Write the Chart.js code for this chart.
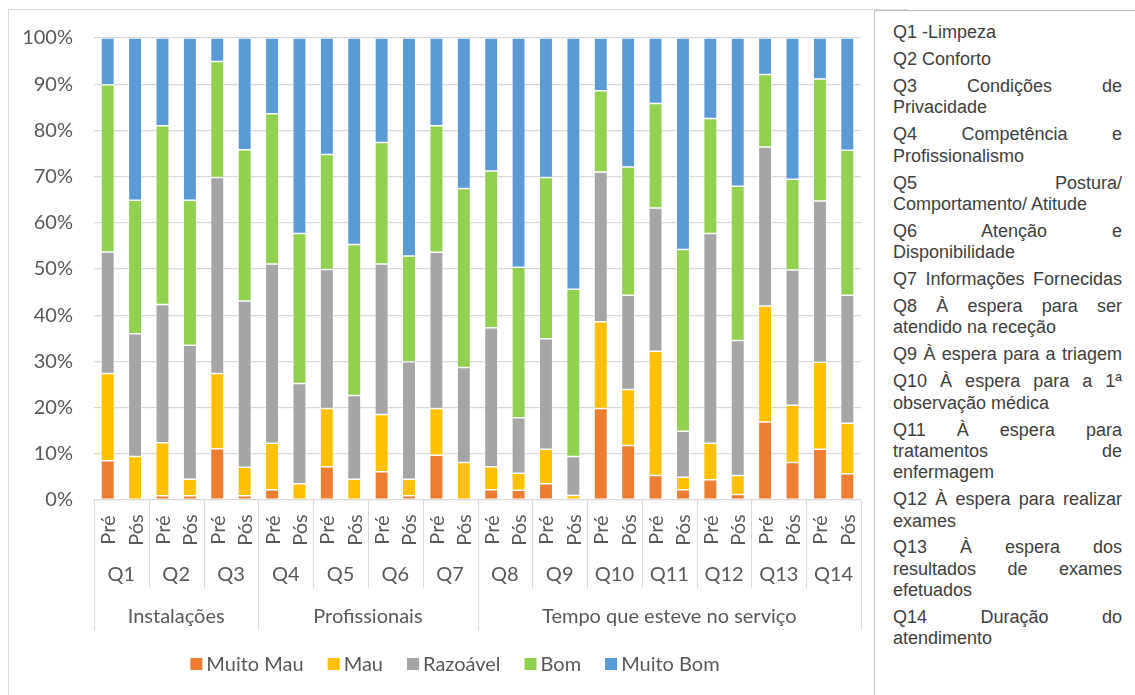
<!DOCTYPE html>
<html>
<head>
<meta charset="utf-8">
<script src="https://cdn.jsdelivr.net/npm/chart.js@4.4.1/dist/chart.umd.min.js"></script>
<style>
  body { margin: 0; width: 1135px; height: 695px; overflow: hidden; background: #fff; position: relative; font-family: Lato, sans-serif; }
  #frame { position: absolute; left: 8px; top: 9px; width: 900px; height: 700px; border: 1px solid #d9d9d9; box-sizing: border-box; }
  #wrap { position: absolute; left: 0; top: 0; width: 875px; height: 695px; }
  #notes { position: absolute; left: 874px; top: 10px; width: 300px; height: 700px; border: 1px solid #bfbfbf; background: #fff; box-sizing: border-box; }
  #notes .txt { position: absolute; left: 18px; top: 11px; width: 229px; font-family: "Liberation Sans", Arial, sans-serif; font-size: 18px; line-height: 21.3px; color: #404040; }
  .p { margin-bottom: 5.7px; }
  .l { white-space: nowrap; }
  .j { white-space: nowrap; text-align: justify; text-align-last: justify; }
</style>
</head>
<body>
<div id="frame"></div>
<div id="wrap"><canvas id="chart" width="875" height="695"></canvas></div>
<div id="notes"><div class="txt" id="txt"></div></div>

<script>
// questions, phases and the three blocks of the questionnaire
const questions = ['Q1','Q2','Q3','Q4','Q5','Q6','Q7','Q8','Q9','Q10','Q11','Q12','Q13','Q14'];
const phases = ['Pré', 'Pós'];
const groups = ['Instalações', 'Profissionais', 'Tempo que esteve no serviço'];
const groupSizes = [3, 4, 7];   // questions per block

// % of answers, order: Q1 Pré, Q1 Pós, Q2 Pré, ...
const muitoMau = [8.5, 0, 0.9, 0.9, 11.1, 0.9, 2.2, 0, 7.2, 0, 6.1, 0.9, 9.7, 0,
                  2.2, 2.1, 3.5, 0, 19.8, 11.8, 5.3, 2.2, 4.4, 1.2, 16.9, 8.1, 11.0, 5.7];
const mau      = [18.9, 9.4, 11.5, 3.6, 16.3, 6.2, 10.1, 3.5, 12.6, 4.5, 12.4, 3.6, 10.1, 8.1,
                  5.0, 3.7, 7.5, 1.0, 18.8, 12.1, 26.9, 2.7, 7.9, 4.1, 25.1, 12.4, 18.8, 10.9];
const razoavel = [26.3, 26.6, 29.9, 29.0, 42.4, 36.0, 38.8, 21.7, 30.1, 18.1, 32.6, 25.4, 33.8, 20.6,
                  30.1, 12.0, 23.9, 8.4, 32.4, 20.4, 31.0, 10.0, 45.4, 29.2, 34.4, 29.3, 34.9, 27.7];
const bom      = [36.2, 28.9, 38.7, 31.4, 25.1, 32.7, 32.5, 32.5, 24.9, 32.7, 26.3, 22.9, 27.4, 38.7,
                  33.9, 32.6, 34.9, 36.2, 17.6, 27.8, 22.6, 39.3, 24.9, 33.4, 15.7, 19.6, 26.4, 31.4];
const muitoBom = [10.1, 35.1, 19.0, 35.1, 5.1, 24.2, 16.4, 42.3, 25.2, 44.7, 22.6, 47.2, 19.0, 32.6,
                  28.8, 49.6, 30.2, 54.4, 11.4, 27.9, 14.2, 45.8, 17.4, 32.1, 7.9, 30.6, 8.9, 24.3];

// side notes: each question split into its printed lines, 1 = justified line
const notes = [
  [['Q1 -Limpeza', 0]],
  [['Q2 Conforto', 0]],
  [['Q3 Condições de', 1], ['Privacidade', 0]],
  [['Q4 Competência e', 1], ['Profissionalismo', 0]],
  [['Q5 Postura/', 1], ['Comportamento/ Atitude', 0]],
  [['Q6 Atenção e', 1], ['Disponibilidade', 0]],
  [['Q7 Informações Fornecidas', 1]],
  [['Q8 À espera para ser', 1], ['atendido na receção', 0]],
  [['Q9 À espera para a triagem', 1]],
  [['Q10 À espera para a 1ª', 1], ['observação médica', 0]],
  [['Q11 À espera para', 1], ['tratamentos de', 1], ['enfermagem', 0]],
  [['Q12 À espera para realizar', 1], ['exames', 0]],
  [['Q13 À espera dos', 1], ['resultados de exames', 1], ['efetuados', 0]],
  [['Q14 Duração do', 1], ['atendimento', 0]]
];

const txt = document.getElementById('txt');
notes.forEach(par => {
  const p = document.createElement('div');
  p.className = 'p';
  par.forEach(([line, j]) => {
    const d = document.createElement('div');
    d.className = j ? 'j' : 'l';
    d.textContent = line;
    p.appendChild(d);
  });
  txt.appendChild(p);
});

const labels = [];
questions.forEach(q => phases.forEach(ph => labels.push(q + ' ' + ph)));

const series = [
  { label: 'Muito Mau', data: muitoMau, color: '#ED7D31' },
  { label: 'Mau',       data: mau,      color: '#FFC000' },
  { label: 'Razoável',  data: razoavel, color: '#A5A5A5' },
  { label: 'Bom',       data: bom,      color: '#92D050' },
  { label: 'Muito Bom', data: muitoBom, color: '#5B9BD5' }
];

const FONT = '20px Lato';
const TEXT = '#595959';
const LINE = '#d9d9d9';

// category axis in three levels + legend underneath
const multiAxis = {
  id: 'multiAxis',
  afterDraw(chart) {
    const { ctx, chartArea: a, scales: { x } } = chart;
    const step = x.getPixelForValue(1) - x.getPixelForValue(0);
    const bottom = a.bottom;
    ctx.save();
    ctx.font = FONT;
    ctx.fillStyle = TEXT;
    ctx.textAlign = 'center';
    ctx.textBaseline = 'middle';

    // Pré / Pós
    labels.forEach((lab, i) => {
      ctx.save();
      ctx.translate(x.getPixelForValue(i) + 1, bottom + 30);
      ctx.rotate(-Math.PI / 2);
      ctx.fillText(phases[i % 2], 0, 0);
      ctx.restore();
    });

    // question labels + separators
    const bounds = [0];
    groupSizes.reduce((s, n) => { bounds.push(s + n); return s + n; }, 0);
    ctx.strokeStyle = LINE;
    ctx.lineWidth = 1;
    for (let k = 0; k <= questions.length; k++) {
      const px = Math.round(x.getPixelForValue(k * 2) - step / 2) + 0.5;
      const long = bounds.includes(k);
      ctx.beginPath();
      ctx.moveTo(px, bottom);
      ctx.lineTo(px, bottom + (long ? 130 : 88));
      ctx.stroke();
      if (k < questions.length) {
        const cx = (x.getPixelForValue(k * 2) + x.getPixelForValue(k * 2 + 1)) / 2;
        ctx.fillText(questions[k], cx, bottom + 75);
      }
    }

    // block labels
    groups.forEach((g, gi) => {
      const l = x.getPixelForValue(bounds[gi] * 2) - step / 2;
      const r = x.getPixelForValue(bounds[gi + 1] * 2) - step / 2;
      ctx.fillText(g, (l + r) / 2, bottom + 117);
    });

    // legend
    const box = 12, gapText = 4, gapItem = 24;
    const widths = series.map(s => ctx.measureText(s.label).width);
    const total = widths.reduce((s, w) => s + w + box + gapText, 0) + gapItem * (series.length - 1);
    let lx = 455 - total / 2;
    const ly = bottom + 164;
    ctx.textAlign = 'left';
    series.forEach((s, i) => {
      ctx.fillStyle = s.color;
      ctx.fillRect(lx, ly - box / 2, box, box);
      ctx.fillStyle = TEXT;
      ctx.fillText(s.label, lx + box + gapText, ly + 1);
      lx += box + gapText + widths[i] + gapItem;
    });
    ctx.restore();
  }
};

new Chart(document.getElementById('chart'), {
  type: 'bar',
  data: {
    labels: labels,
    datasets: series.map(s => ({
      label: s.label,
      data: s.data,
      backgroundColor: s.color,
      borderColor: 'rgba(255,255,255,0.7)',
      borderWidth: 0.75,
      borderSkipped: false,
      barPercentage: 0.49,
      categoryPercentage: 1
    }))
  },
  options: {
    responsive: false,
    animation: false,
    layout: { padding: { top: 38, right: 14, bottom: 195, left: 0 } },
    plugins: { legend: { display: false }, tooltip: { enabled: false } },
    scales: {
      x: {
        stacked: true,
        grid: { display: false },
        border: { display: false },
        ticks: { display: false },
        afterFit: s => { s.height = 0; }
      },
      y: {
        stacked: true,
        min: 0,
        max: 100,
        ticks: {
          stepSize: 10,
          callback: v => v + '%',
          color: TEXT,
          font: { family: 'Lato', size: 20 },
          padding: 21
        },
        grid: { color: LINE, lineWidth: 1.3, drawTicks: false },
        border: { display: false },
        afterFit: s => { s.width = 94; }
      }
    }
  },
  plugins: [multiAxis]
});
</script>
</body>
</html>
